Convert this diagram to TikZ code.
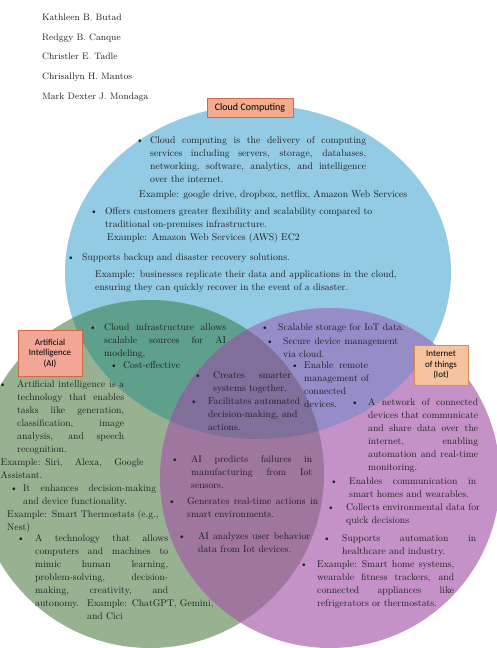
\documentclass[tikz,border=0pt]{standalone}
\usepackage{fontspec}
\newfontfamily\lblfont{Carlito}
\definecolor{cloudblue}{HTML}{93CAE4}
\definecolor{aigreen}{HTML}{98B291}
\definecolor{iotpink}{HTML}{C492C7}
\definecolor{cloudai}{HTML}{5FA08C}
\definecolor{cloudiot}{HTML}{968CC8}
\definecolor{aiiot}{HTML}{9E769E}
\definecolor{allthree}{HTML}{806E9B}
\definecolor{lblfill}{HTML}{F4AB8E}
\definecolor{lbldraw}{HTML}{CD6A44}
\definecolor{aifill}{HTML}{F3A696}
\definecolor{iotfill}{HTML}{F7C39E}
\definecolor{iotdraw}{HTML}{D98A5A}
\definecolor{txtcol}{HTML}{1E1E1E}
\newlength{\jlw}
\newcommand{\bul}[1]{\leavevmode\llap{\textbullet\hspace{#1pt}}}
\newcommand{\jl}[1]{\hbox to\jlw{\spaceskip=0.33em plus 1fil\relax #1}\par}
\begin{document}
\begin{tikzpicture}[x=1pt, y=-1pt,
    txt/.style = {inner sep=0pt, anchor=base west,
                  font=\fontsize{9.7}{13}\selectfont, text=txtcol},
    jw/.style = {text width=#1, execute at begin node={\setlength{\jlw}{#1}}},
    who/.style = {inner sep=0pt, anchor=base west,
                  font=\fontsize{9.3}{11}\selectfont, text=txtcol},
    lbl/.style = {rectangle, draw=lbldraw, fill=lblfill, line width=0.6pt,
                  inner sep=1pt, align=center,
                  font=\lblfont\fontsize{9}{10.5}\selectfont}
]
\useasboundingbox (0,0) rectangle (496,648);

\def\cloudset{(258,272) ellipse [x radius=193pt, y radius=167pt]}
\def\aiset{(150,474) circle [radius=174pt]}
\def\iotset{(330,478) circle [radius=170pt]}

% the three sets
\fill[cloudblue] \cloudset;
\fill[aigreen] \aiset;
\fill[iotpink] \iotset;
\begin{scope} \clip \cloudset; \fill[cloudai] \aiset; \end{scope}
\begin{scope} \clip \cloudset; \fill[cloudiot] \iotset; \end{scope}
\begin{scope} \clip \aiset; \fill[aiiot] \iotset; \end{scope}
\begin{scope} \clip \cloudset; \clip \aiset; \fill[allthree] \iotset; \end{scope}

% authors
\node (au1) [who] at (42,20) {Kathleen B. Butad};
\node (au2) [who] at (42,40) {Redggy B. Canque};
\node (au3) [who] at (42,59) {Christler E. Tadle};
\node (au4) [who] at (42,79) {Chrisallyn H. Mantos};
\node (au5) [who] at (42,99) {Mark Dexter J. Mondaga};

% set labels
\node (cclbl) [lbl, minimum width=86pt, minimum height=19pt,
               font=\lblfont\fontsize{10}{12}\selectfont] at (250,107.5) {Cloud Computing};
\node (ailbl) [lbl, fill=aifill, minimum width=64pt, minimum height=46pt] at (50,353)
  {Artificial\\Intelligence\\(AI)};
\node (iotlbl) [lbl, fill=iotfill, draw=iotdraw, minimum width=54pt, minimum height=40pt]
  at (441,365) {Internet\\of things\\(Iot)};

% cloud only
\node (cc1) [txt, jw=216pt] at (150,143)
  {\bul{6.6}\jl{Cloud computing is the delivery of computing}\jl{services including servers, storage, databases,}\jl{networking, software, analytics, and intelligence}over the internet.};
\node (cc1x) [txt] at (139,197) {Example: google drive, dropbox, netflix, Amazon Web Services};
\node (cc2) [txt, text width=290pt] at (105,214)
  {\bul{7.6}Offers customers greater flexibility and scalability compared to\\
   traditional on-premises infrastructure.\\
   \hspace*{2pt}Example: Amazon Web Services (AWS) EC2};
\node (cc3) [txt] at (82,260) {\bul{7.6}Supports backup and disaster recovery solutions.};
\node (cc3x) [txt, text width=330pt] at (95,277)
  {Example: businesses replicate their data and applications in the cloud,\\
   ensuring they can quickly recover in the event of a disaster.};

% cloud and AI
\node (ca1) [txt, jw=122pt] at (104,330)
  {\bul{7.6}\jl{Cloud infrastructure allows}\jl{scalable sources for AI}modeling,};
\node (ca2) [txt] at (123,368) {\bul{5.6}Cost-effective};

% cloud and IoT
\node (ci1) [txt] at (278,330) {\bul{9.6}Scalable storage for IoT data.};
\node (ci2) [txt, jw=115pt] at (283,344)
  {\bul{9.6}\jl{Secure device management}via cloud.};
\node (ci3) [txt, jw=64pt] at (304,368)
  {\bul{5.6}\jl{Enable remote}\jl{management of}connected\\devices.};

% all three
\node (cai1) [txt, jw=78pt] at (213,378)
  {\bul{11.6}\jl{Creates smarter}systems together.};
\node (cai2) [txt, text width=100pt] at (208,404)
  {\bul{10.6}Facilitates automated\\decision-making, and\\actions.};

% AI only
\node (aa1) [txt, jw=107pt] at (17,387)
  {\bul{10.8}\jl{Artificial intelligence is a}\jl{technology that enables}\jl{tasks like generation,}\jl{classification, image}\jl{analysis, and speech}recognition.};
\node (aa1x) [txt, jw=143pt] at (0.5,465)
  {\jl{Example: Siri, Alexa, Google}Assistant.};
\node (aa2) [txt, jw=133pt] at (23,491)
  {\bul{5.6}\jl{It enhances decision-making}and device functionality.};
\node (aa2x) [txt, text width=170pt] at (7,517)
  {Example: Smart Thermostats (e.g.,\\Nest)};
\node (aa3) [txt, jw=133pt] at (35,541)
  {\bul{10.6}\jl{A technology that allows}\jl{computers and machines to}\jl{mimic human learning,}\jl{problem-solving, decision-}\jl{making, creativity, and}autonomy.};
\node (aa3x) [txt, text width=140pt] at (87,606)
  {Example: ChatGPT, Gemini,\\and Cici};

% AI and IoT
\node (ai1) [txt, jw=121pt] at (191,462)
  {\bul{12.6}\jl{AI predicts failures in}\jl{manufacturing from Iot}sensors.};
\node (ai2) [txt, jw=131pt] at (187,504)
  {\bul{11.6}\jl{Generates real-time actions in}smart environments.};
\node (ai3) [txt, jw=112pt] at (198,539)
  {\bul{12.6}\jl{AI analyzes user behavior}data from Iot devices.};

% IoT only
\node (ii1) [txt, jw=110pt] at (368,405)
  {\bul{9.6}\jl{A network of connected}\jl{devices that communicate}\jl{and share data over the}\jl{internet, enabling}\jl{automation and real-time}monitoring.};
\node (ii2) [txt, jw=127pt] at (349,484)
  {\bul{11.6}\jl{Enables communication in}smart homes and wearables.};
\node (ii3) [txt, text width=145pt] at (346,510)
  {\bul{11.6}Collects environmental data for\\quick decisions};
\node (ii4) [txt, jw=134pt] at (342,541)
  {\bul{11.6}\jl{Supports automation in}healthcare and industry.};
\node (ii5) [txt, jw=137pt] at (317,567)
  {\bul{9.6}\jl{Example: Smart home systems,}\jl{wearable fitness trackers, and}\jl{connected appliances like}refrigerators or thermostats.};

\end{tikzpicture}
\end{document}
